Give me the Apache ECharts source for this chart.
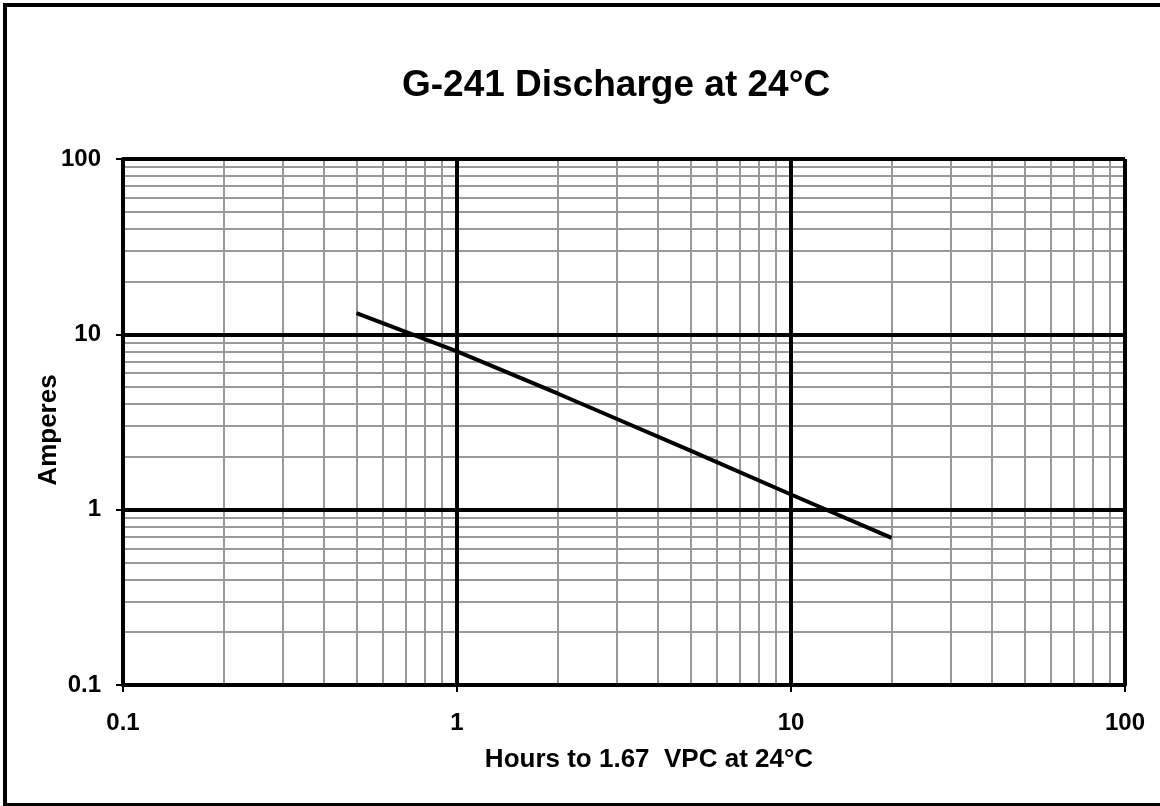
<!DOCTYPE html>
<html>
<head>
<meta charset="utf-8">
<script src="https://cdn.jsdelivr.net/npm/echarts@6/dist/echarts.min.js"></script>
<style>
  html, body { margin: 0; padding: 0; background: #fff; }
  #chart { width: 1160px; height: 806px; }
</style>
</head>
<body>
<div id="chart"></div>
<script>
// discharge curve
const hours = [0.5, 1, 2, 3, 5, 10, 20]
const amperes = [13.2, 8.0, 4.6, 3.3, 2.17, 1.22, 0.69]

const decades = [0.1, 1, 10]
const majorLines = [1, 10, 100]

// log paper grid: 2..9 inside every decade
const minorLines = []
decades.forEach(d => {
  for (let k = 2; k <= 9; k++) minorLines.push(+(k * d).toFixed(3))
})

const font = 'Liberation Sans, Arial, sans-serif'

const chart = echarts.init(document.getElementById('chart'))

const option = {
  backgroundColor: '#fff',
  animation: false,
  title: {
    text: 'G-241 Discharge at 24°C',
    left: 397,
    top: 62,
    textStyle: { fontFamily: font, fontWeight: 'bold', fontSize: 37, color: '#000' }
  },
  graphic: [
    {
      type: 'rect',
      shape: { x: 5, y: 5, width: 1180, height: 800 },
      style: { fill: 'none', stroke: '#000', lineWidth: 4 },
      silent: true
    }
  ],
  grid: { left: 123, right: 35, top: 159, bottom: 121 },
  xAxis: {
    type: 'log',
    logBase: 10,
    min: 0.1,
    max: 100,
    z: 5,
    name: 'Hours to 1.67  VPC at 24°C',
    nameLocation: 'middle',
    nameGap: 62,
    nameMoveOverlap: false,
    nameTextStyle: { fontFamily: font, fontWeight: 'bold', fontSize: 26, color: '#000', padding: [0, 0, 0, 50] },
    axisLine: { lineStyle: { color: '#000', width: 4 } },
    axisTick: { show: true, length: 7, lineStyle: { color: '#000', width: 2 } },
    axisLabel: { fontFamily: font, fontWeight: 'bold', fontSize: 24, color: '#000', margin: 26 },
    splitLine: { show: false },
    minorTick: { show: false }
  },
  yAxis: {
    type: 'log',
    logBase: 10,
    min: 0.1,
    max: 100,
    z: 5,
    name: 'Amperes',
    nameLocation: 'middle',
    nameGap: 61,
    nameMoveOverlap: false,
    nameTextStyle: { fontFamily: font, fontWeight: 'bold', fontSize: 26, color: '#000', padding: [0, 16, 0, 0] },
    axisLine: { lineStyle: { color: '#000', width: 4 } },
    axisTick: { show: true, length: 7, lineStyle: { color: '#000', width: 2 } },
    axisLabel: { fontFamily: font, fontWeight: 'bold', fontSize: 24, color: '#000', margin: 22 },
    splitLine: { show: false }
  },
  series: [
    {
      name: 'minor',
      type: 'line',
      data: [],
      silent: true,
      markLine: {
        z: 1,
        silent: true,
        symbol: ['none', 'none'],
        label: { show: false },
        lineStyle: { type: 'solid', color: '#999', width: 2 },
        data: minorLines.map(v => ({ xAxis: v })).concat(minorLines.map(v => ({ yAxis: v })))
      }
    },
    {
      name: 'major',
      type: 'line',
      data: [],
      silent: true,
      markLine: {
        z: 2,
        silent: true,
        symbol: ['none', 'none'],
        label: { show: false },
        lineStyle: { type: 'solid', color: '#000', width: 4 },
        data: majorLines.map(v => ({ xAxis: v })).concat(majorLines.map(v => ({ yAxis: v })))
      }
    },
    {
      name: 'Amperes',
      type: 'line',
      z: 10,
      data: hours.map((h, i) => [h, amperes[i]]),
      showSymbol: false,
      symbol: 'none',
      lineStyle: { color: '#000', width: 4 }
    }
  ]
}

chart.setOption(option)
</script>
</body>
</html>
